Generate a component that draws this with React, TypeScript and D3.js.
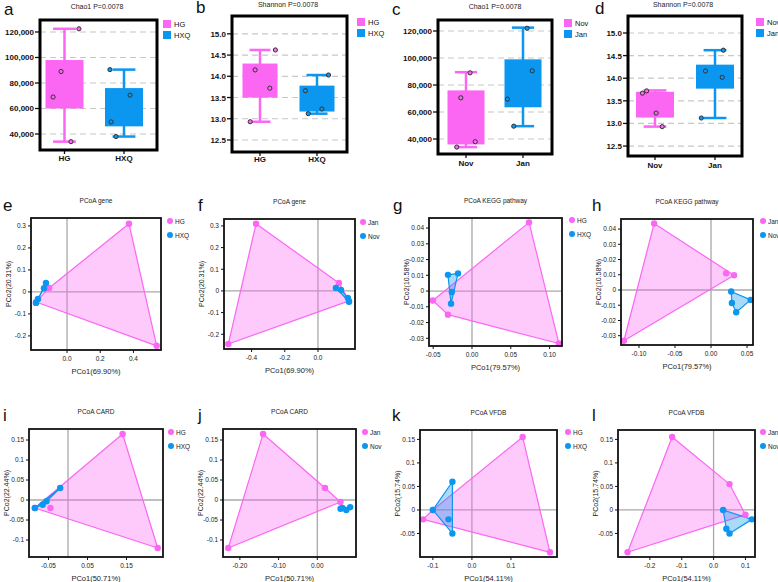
import React from 'react';
import * as d3 from 'd3';

const PINK = '#fb66f3';
const BLUE = '#0b96ef';
const FONT = '"Liberation Sans", Arial, Helvetica, sans-serif';

// ---------- Box plot data (a-d) ----------
const groupsAB = ['HG', 'HXQ'];
const groupsCD = ['Nov', 'Jan'];

const chaoTicks = [40000, 60000, 80000, 100000, 120000];
const shannonTicks = [12.5, 13.0, 13.5, 14.0, 14.5, 15.0];

// box stats: [min, q1, q3, max]
const aStats = [[34000, 60000, 98000, 122500], [38000, 46000, 76000, 90500]];
const aPoints = [[122500, 89000, 69000, 34000], [90500, 70500, 49500, 38000]];
const aJitter = [[0.38, -0.09, -0.3, 0.17], [-0.37, 0.16, -0.34, -0.21]];

const bStats = [[12.93, 13.5, 14.3, 14.62], [13.12, 13.17, 13.78, 14.03]];
const bPoints = [[14.62, 14.15, 13.72, 12.93], [14.03, 13.66, 13.23, 13.12]];
const bJitter = [[0.44, -0.14, 0.28, -0.28], [0.33, -0.33, 0.14, -0.25]];

const cStats = [[34000, 36000, 76000, 89500], [49500, 63500, 99000, 122500]];
const cPoints = [[89000, 70500, 38000, 34000], [122000, 90500, 69500, 49500]];
const cJitter = [[0.11, -0.14, 0.25, -0.25], [0.11, 0.25, -0.42, -0.25]];

const dStats = [[12.93, 13.13, 13.7, 13.73], [13.12, 13.77, 14.3, 14.62]];
const dPoints = [[13.67, 13.72, 13.23, 12.93], [14.62, 14.16, 14.02, 13.12]];
const dJitter = [[-0.33, -0.22, 0.03, 0.19], [0.22, -0.25, 0.19, -0.36]];

// ---------- PCoA data (e-l) ----------
const eHG = [[0.373, 0.31], [0.54, -0.245], [-0.108, 0.018], [-0.187, -0.046]];
const eHXQ = [[-0.127, 0.041], [-0.139, 0.017], [-0.175, -0.032], [-0.187, -0.05]];
const fJan = [[-0.373, 0.31], [-0.54, -0.245], [0.126, 0.037], [0.187, -0.046]];
const fNov = [[0.108, 0.014], [0.139, 0.005], [0.18, -0.032], [0.187, -0.05]];
const gHG = [[0.0735, 0.0436], [0.112, -0.0333], [-0.031, -0.015], [-0.0505, -0.006]];
const gHXQ = [[-0.031, 0.0103], [-0.018, 0.0112], [-0.026, -0.0006], [-0.027, -0.008]];
const hJan = [[-0.079, 0.0436], [0.021, 0.011], [0.032, 0.0097], [-0.121, -0.0333]];
const hNov = [[0.028, -0.001], [0.055, -0.0065], [0.035, -0.0146], [0.029, -0.0085]];
const iHG = [[0.14, 0.165], [0.23, -0.12], [-0.085, -0.02], [-0.045, -0.02]];
const iHXQ = [[-0.02, 0.03], [-0.055, -0.003], [-0.065, -0.012], [-0.085, -0.02]];
const jJan = [[-0.14, 0.165], [-0.23, -0.12], [0.02, 0.03], [0.06, -0.005]];
const jNov = [[0.065, -0.02], [0.085, -0.018], [0.075, -0.025], [0.06, -0.022]];
const kHG = [[0.13, 0.155], [0.2, -0.09], [-0.125, -0.02], [-0.1, 0.0]];
const kHXQ = [[-0.05, 0.06], [-0.1, 0.0], [-0.05, -0.05], [-0.06, -0.02]];
const lJan = [[-0.13, 0.155], [0.05, 0.055], [0.1, -0.01], [-0.27, -0.09]];
const lNov = [[0.03, 0.0], [0.05, -0.05], [0.12, -0.02], [0.04, -0.04]];

const fmtThousands = d3.format(',');
const fmtShannon = d3.format('.1f');

function BoxPanel(p: any) {
  const { letter, lx, ly, title, tx, ty, x0, x1, y0, y1, centers, bw, yDomain, ticks, fmt,
    groups, stats, points, jitter, legX, legY, xLabY, colors } = p;
  const y = d3.scaleLinear().domain(yDomain).range([y1, y0]);
  const x = d3.scalePoint().domain(groups).range(centers);
  return (
    <g fontFamily={FONT}>
      <text x={lx} y={ly} fontSize={17} fill="#111">{letter}</text>
      <text x={tx} y={ty} fontSize={7} textAnchor="middle" fill="#222">{title}</text>
      {ticks.map((t: number) => (
        <g key={t}>
          <line x1={x0} x2={x1} y1={y(t)} y2={y(t)} stroke="#c8c8c8" strokeWidth={1.2} strokeDasharray="6,4" />
          <line x1={x0 - 5} x2={x0} y1={y(t)} y2={y(t)} stroke="#111" strokeWidth={1.3} />
          <text x={x0 - 6} y={y(t) + 3} fontSize={8} fontWeight="bold" textAnchor="end" fill="#111">{fmt(t)}</text>
        </g>
      ))}
      {groups.map((g: string, gi: number) => {
        const cx = x(g) as number;
        const [mn, q1, q3, mx] = stats[gi];
        const col = colors[gi];
        return (
          <g key={g}>
            <line x1={cx} x2={cx} y1={y(mx)} y2={y(mn)} stroke={col} strokeWidth={2.5} />
            <line x1={cx - bw * 0.3} x2={cx + bw * 0.3} y1={y(mx)} y2={y(mx)} stroke={col} strokeWidth={2.5} />
            <line x1={cx - bw * 0.3} x2={cx + bw * 0.3} y1={y(mn)} y2={y(mn)} stroke={col} strokeWidth={2.5} />
            <rect x={cx - bw / 2} width={bw} y={y(q3)} height={y(q1) - y(q3)} fill={col} />
            {points[gi].map((v: number, k: number) => (
              <circle key={k} cx={cx + jitter[gi][k] * bw} cy={y(v)} r={2.1} fill={col} stroke="#333" strokeWidth={1} />
            ))}
            <line x1={cx} x2={cx} y1={y1} y2={y1 + 4} stroke="#111" strokeWidth={1.3} />
            <text x={cx} y={xLabY} fontSize={8} fontWeight="bold" textAnchor="middle" fill="#111">{g}</text>
            <rect x={legX} y={legY + gi * 11 - 4} width={8} height={8} fill={col} />
            <text x={legX + 11} y={legY + gi * 11 + 3} fontSize={7.5} fill="#111">{g}</text>
          </g>
        );
      })}
      <rect x={x0} y={y0} width={x1 - x0} height={y1 - y0} fill="none" stroke="#000" strokeWidth={3} />
    </g>
  );
}

function PcoaPanel(p: any) {
  const { letter, lx, ly, title, x0, x1, y0, y1, xDomain, yDomain, xTicks, xLabels, yTicks, yLabels,
    xLabel, yLabel, series, legX, legY } = p;
  const x = d3.scaleLinear().domain(xDomain).range([x0, x1]);
  const y = d3.scaleLinear().domain(yDomain).range([y1, y0]);
  const cx = (x0 + x1) / 2;
  return (
    <g fontFamily={FONT}>
      <text x={lx} y={ly} fontSize={17} fill="#111">{letter}</text>
      <text x={cx} y={y0 - 15} fontSize={6.5} textAnchor="middle" fill="#222">{title}</text>
      <line x1={x(0)} x2={x(0)} y1={y0} y2={y1} stroke="#a8a8a8" strokeWidth={1.3} />
      <line x1={x0} x2={x1} y1={y(0)} y2={y(0)} stroke="#a8a8a8" strokeWidth={1.3} />
      {series.map((s: any, si: number) => {
        const pts = s.data.map((d: number[]) => [x(d[0]), y(d[1])] as [number, number]);
        const hull = d3.polygonHull(pts);
        return (
          <g key={si}>
            {hull && <path d={'M' + hull.join('L') + 'Z'} fill={s.color} fillOpacity={0.35} stroke={s.color} strokeWidth={1.2} strokeLinejoin="round" />}
          </g>
        );
      })}
      {series.map((s: any, si: number) => (
        <g key={'p' + si}>
          {s.data.map((d: number[], k: number) => (
            <circle key={k} cx={x(d[0])} cy={y(d[1])} r={3.2} fill={s.color} />
          ))}
          <circle cx={legX} cy={legY + si * 14} r={3} fill={s.color} />
          <text x={legX + 5} y={legY + si * 14 + 2.5} fontSize={6.5} fill="#222">{s.name}</text>
        </g>
      ))}
      {yTicks.map((t: number, k: number) => (
        <g key={'y' + k}>
          <line x1={x0 - 3} x2={x0} y1={y(t)} y2={y(t)} stroke="#111" strokeWidth={1} />
          <text x={x0 - 5} y={y(t) + 2.3} fontSize={6.5} textAnchor="end" fill="#222">{yLabels[k]}</text>
        </g>
      ))}
      {xTicks.map((t: number, k: number) => (
        <g key={'x' + k}>
          <line x1={x(t)} x2={x(t)} y1={y1} y2={y1 + 3} stroke="#111" strokeWidth={1} />
          <text x={x(t)} y={y1 + 11} fontSize={6.5} textAnchor="middle" fill="#222">{xLabels[k]}</text>
        </g>
      ))}
      <rect x={x0} y={y0} width={x1 - x0} height={y1 - y0} fill="none" stroke="#111" strokeWidth={1.8} />
      <text x={cx} y={y1 + 24} fontSize={7.5} textAnchor="middle" fill="#222">{xLabel}</text>
      <text transform={`translate(${x0 - 20},${(y0 + y1) / 2}) rotate(-90)`} fontSize={7} textAnchor="middle" fill="#222">{yLabel}</text>
    </g>
  );
}

export default function App() {
  const gene = { yTicks: [-0.2, -0.1, 0, 0.1, 0.2, 0.3], yLabels: ['-0.2', '-0.1', '0', '0.1', '0.2', '0.3'], xLabel: 'PCo1(69.90%)', yLabel: 'PCo2(20.31%)' };
  const kegg = { yTicks: [-0.03, -0.02, -0.01, 0, 0.01, 0.02, 0.03, 0.04], yLabels: ['-0.03', '-0.02', '-0.01', '0', '0.01', '0.02', '0.03', '0.04'], xLabel: 'PCo1(79.57%)', yLabel: 'PCo2(10.58%)' };
  const card = { yTicks: [-0.1, -0.05, 0, 0.05, 0.1, 0.15], yLabels: ['-0.1', '-0.05', '0', '0.05', '0.1', '0.15'], xLabel: 'PCo1(50.71%)', yLabel: 'PCo2(22.44%)' };
  const vfdb = { yTicks: [-0.05, 0, 0.05, 0.1, 0.15], yLabels: ['-0.05', '0', '0.05', '0.1', '0.15'], xLabel: 'PCo1(54.11%)', yLabel: 'PCo2(15.74%)' };
  return (
    <svg width={778} height={582} style={{ position: 'absolute', left: 0, top: 0, background: '#fff' }}>
      <BoxPanel letter="a" lx={4} ly={15} title="Chao1 P=0.0078" tx={97} ty={9} x0={40} x1={157} y0={20} y1={150}
        centers={[64.5, 124]} bw={38} yDomain={[27450, 129400]} ticks={chaoTicks} fmt={fmtThousands}
        groups={groupsAB} stats={aStats} points={aPoints} jitter={aJitter} legX={163} legY={24} xLabY={161} colors={[PINK, BLUE]} />
      <BoxPanel letter="b" lx={196} ly={13} title="Shannon P=0.0078" tx={288} ty={7} x0={232} x1={347} y0={16} y1={152}
        centers={[260, 317]} bw={35} yDomain={[12.217, 15.42]} ticks={shannonTicks} fmt={fmtShannon}
        groups={groupsAB} stats={bStats} points={bPoints} jitter={bJitter} legX={357} legY={22} xLabY={162} colors={[PINK, BLUE]} />
      <BoxPanel letter="c" lx={392} ly={15} title="Chao1 P=0.0078" tx={495} ty={9} x0={438} x1={552} y0={20} y1={154}
        centers={[466, 523]} bw={37} yDomain={[28890, 128150]} ticks={chaoTicks} fmt={fmtThousands}
        groups={groupsCD} stats={cStats} points={cPoints} jitter={cJitter} legX={564} legY={23} xLabY={166} colors={[PINK, BLUE]} />
      <BoxPanel letter="d" lx={595} ly={14} title="Shannon P=0.0078" tx={683} ty={7} x0={628} x1={742} y0={16} y1={156}
        centers={[655, 715]} bw={38} yDomain={[12.28, 15.376]} ticks={shannonTicks} fmt={fmtShannon}
        groups={groupsCD} stats={dStats} points={dPoints} jitter={dJitter} legX={756} legY={22} xLabY={168} colors={[PINK, BLUE]} />

      <PcoaPanel letter="e" lx={3} ly={211} title="PCoA gene" x0={31} x1={161} y0={218} y1={350}
        xDomain={[-0.217, 0.566]} yDomain={[-0.264, 0.336]} xTicks={[0, 0.2, 0.4]} xLabels={['0.0', '0.2', '0.4']} {...gene}
        series={[{ name: 'HG', color: PINK, data: eHG }, { name: 'HXQ', color: BLUE, data: eHXQ }]} legX={170} legY={221} />
      <PcoaPanel letter="f" lx={198} ly={211} title="PCoA gene" x0={224} x1={355} y0={219} y1={349}
        xDomain={[-0.566, 0.223]} yDomain={[-0.268, 0.332]} xTicks={[-0.4, -0.2, 0]} xLabels={['-0.4', '-0.2', '0.0']} {...gene}
        series={[{ name: 'Jan', color: PINK, data: fJan }, { name: 'Nov', color: BLUE, data: fNov }]} legX={363} legY={222} />
      <PcoaPanel letter="g" lx={393} ly={211} title="PCoA KEGG pathway" x0={429} x1={562} y0={218} y1={346}
        xDomain={[-0.0554, 0.116]} yDomain={[-0.0349, 0.0464]} xTicks={[-0.05, 0, 0.05, 0.1]} xLabels={['-0.05', '0.00', '0.05', '0.10']} {...kegg}
        series={[{ name: 'HG', color: PINK, data: gHG }, { name: 'HXQ', color: BLUE, data: gHXQ }]} legX={572} legY={220} />
      <PcoaPanel letter="h" lx={592} ly={211} title="PCoA KEGG pathway" x0={621} x1={753} y0={219} y1={345}
        xDomain={[-0.125, 0.0583]} yDomain={[-0.0361, 0.0466]} xTicks={[-0.1, -0.05, 0, 0.05]} xLabels={['-0.10', '-0.05', '0.00', '0.05']} {...kegg}
        series={[{ name: 'Jan', color: PINK, data: hJan }, { name: 'Nov', color: BLUE, data: hNov }]} legX={763} legY={221} />

      <PcoaPanel letter="i" lx={3} ly={421} title="PCoA CARD" x0={29} x1={163} y0={429} y1={557}
        xDomain={[-0.1, 0.2436]} yDomain={[-0.1425, 0.1775]} xTicks={[-0.05, 0.05, 0.15]} xLabels={['-0.05', '0.05', '0.15']} {...card}
        series={[{ name: 'HG', color: PINK, data: iHG }, { name: 'HXQ', color: BLUE, data: iHXQ }]} legX={171} legY={432} />
      <PcoaPanel letter="j" lx={198} ly={421} title="PCoA CARD" x0={223} x1={356} y0={429} y1={557}
        xDomain={[-0.2436, 0.1]} yDomain={[-0.1425, 0.1775]} xTicks={[-0.2, -0.1, 0]} xLabels={['-0.20', '-0.10', '0.00']} {...card}
        series={[{ name: 'Jan', color: PINK, data: jJan }, { name: 'Nov', color: BLUE, data: jNov }]} legX={365} legY={432} />
      <PcoaPanel letter="k" lx={392} ly={421} title="PCoA VFDB" x0={420} x1={557} y0={430} y1={557}
        xDomain={[-0.133, 0.218]} yDomain={[-0.1, 0.17]} xTicks={[-0.1, 0, 0.1]} xLabels={['-0.1', '0.0', '0.1']} {...vfdb}
        series={[{ name: 'HG', color: PINK, data: kHG }, { name: 'HXQ', color: BLUE, data: kHXQ }]} legX={568} legY={432} />
      <PcoaPanel letter="l" lx={592} ly={421} title="PCoA VFDB" x0={618} x1={755} y0={430} y1={557}
        xDomain={[-0.3, 0.13]} yDomain={[-0.1, 0.17]} xTicks={[-0.2, -0.1, 0, 0.1]} xLabels={['-0.2', '-0.1', '0.0', '0.1']} {...vfdb}
        series={[{ name: 'Jan', color: PINK, data: lJan }, { name: 'Nov', color: BLUE, data: lNov }]} legX={763} legY={432} />
    </svg>
  );
}
